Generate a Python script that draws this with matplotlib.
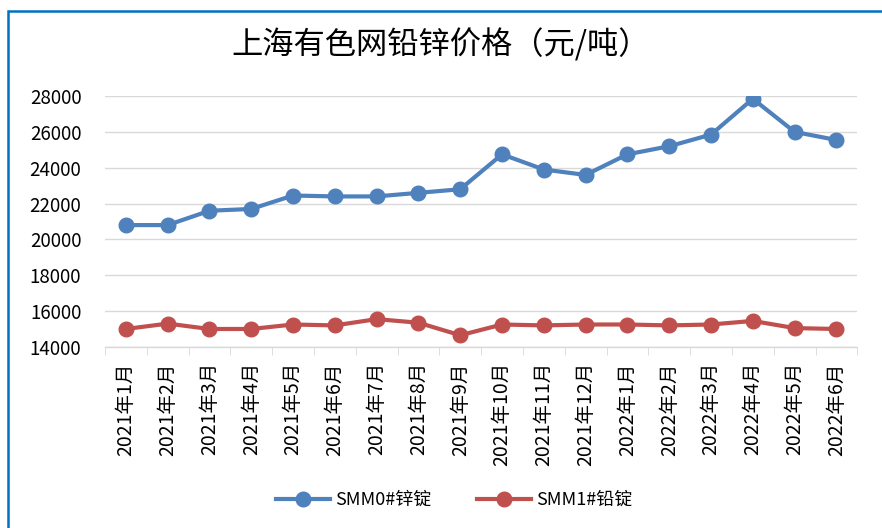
import matplotlib.pyplot as plt
from matplotlib.patches import Rectangle
from matplotlib.ticker import FixedLocator

plt.rcParams["font.family"] = ["Noto Sans CJK SC", "DejaVu Sans"]

MONTHS = [
    "2021年1月", "2021年2月", "2021年3月", "2021年4月", "2021年5月", "2021年6月",
    "2021年7月", "2021年8月", "2021年9月", "2021年10月", "2021年11月", "2021年12月",
    "2022年1月", "2022年2月", "2022年3月", "2022年4月", "2022年5月", "2022年6月",
]
ZINC = [20800, 20800, 21600, 21700, 22450, 22400, 22400, 22600, 22800,
        24750, 23900, 23600, 24750, 25200, 25850, 27850, 26000, 25550]
LEAD = [15000, 15300, 15000, 15000, 15250, 15200, 15550, 15350, 14650,
        15250, 15200, 15250, 15250, 15200, 15250, 15450, 15050, 15000]
Y_TICKS = [14000, 16000, 18000, 20000, 22000, 24000, 26000, 28000]

BLUE = "#4F81BD"
RED = "#C0504D"

fig = plt.figure(figsize=(8.82, 5.28), dpi=100)
ax = fig.add_axes([0.119, 0.343, 0.853, 0.475])

x = list(range(len(MONTHS)))
ax.plot(x, ZINC, color=BLUE, lw=3, marker="o", ms=10.5, label="SMM0#锌锭", zorder=3)
ax.plot(x, LEAD, color=RED, lw=3, marker="o", ms=10.5, label="SMM1#铅锭", zorder=3)

ax.set_xlim(-0.5, len(MONTHS) - 0.5)
ax.set_ylim(14000, 28000)
ax.set_yticks(Y_TICKS)
ax.set_yticklabels([str(v) for v in Y_TICKS], fontsize=13.5)
ax.grid(True, axis="y", color="#D9D9D9", lw=1)
ax.set_axisbelow(True)

ax.set_xticks(x)
ax.set_xticklabels(MONTHS, rotation=90, fontsize=14)
ax.xaxis.set_minor_locator(FixedLocator([i - 0.5 for i in range(len(MONTHS) + 1)]))
ax.tick_params(axis="x", which="major", length=0, pad=11)
ax.tick_params(axis="x", which="minor", length=6, color="#D9D9D9", direction="out")
ax.tick_params(axis="y", length=0, pad=17)

for side in ("left", "right", "top"):
    ax.spines[side].set_visible(False)
ax.spines["bottom"].set_color("#D9D9D9")
ax.spines["bottom"].set_linewidth(1)

fig.text(0.5, 0.915, "上海有色网铅锌价格（元/吨）", ha="center", va="center", fontsize=22.5)

fig.legend(loc="center", bbox_to_anchor=(0.515, 0.053), ncol=2, frameon=False,
           fontsize=13, handlelength=3, columnspacing=2.5, handletextpad=0.3)

# blue frame around the chart (cropped at right and bottom in the screenshot)
fig.patches.append(Rectangle((8 / 882, -0.1), 1.2, 1 - 11 / 528 + 0.1,
                             transform=fig.transFigure, fill=False,
                             edgecolor="#0070C0", lw=1.8))

fig.savefig("out.png", dpi=100)
